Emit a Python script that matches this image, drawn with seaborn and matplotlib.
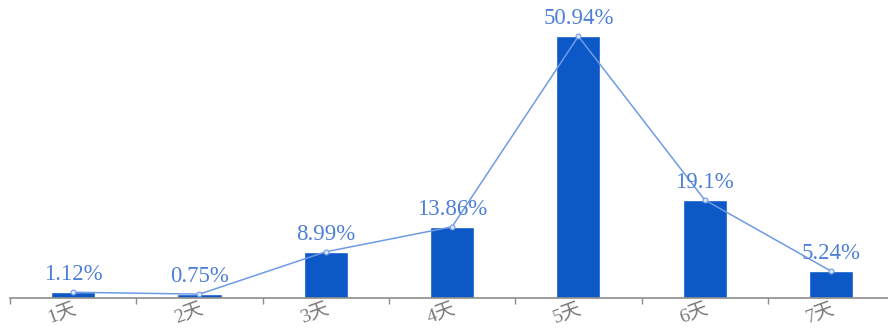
import matplotlib
matplotlib.use("Agg")
import matplotlib.pyplot as plt
import seaborn as sns
import pandas as pd
import numpy as np

days = ["1天", "2天", "3天", "4天", "5天", "6天", "7天"]
values = [1.12, 0.75, 8.99, 13.86, 50.94, 19.1, 5.24]
labels = ["1.12%", "0.75%", "8.99%", "13.86%", "50.94%", "19.1%", "5.24%"]

sns.set_style("white")
plt.rcParams['font.family'] = ['Liberation Serif', 'Noto Sans CJK SC', 'DejaVu Sans']

df = pd.DataFrame({"day": days, "value": values})

fig = plt.figure(figsize=(8.88, 3.31), dpi=100)
ax = fig.add_axes([10/888, 33/331, 878/888, 298/331])

sns.barplot(data=df, x="day", y="value", color="#0B58C6", saturation=1,
            width=0.35, ax=ax, zorder=2)

pos = np.arange(len(days))
ax.plot(pos, values, color="#6E9BE6", lw=1.1, zorder=3,
        marker="o", markersize=3.5, markerfacecolor="#DCE6F8",
        markeredgecolor="#6E9BE6", markeredgewidth=0.8)

for x, v, t in zip(pos, values, labels):
    ax.annotate(t, (x, v), xytext=(0, 5), textcoords="offset points",
                ha="center", va="bottom", fontsize=16.5, color="#4E7FD6",
                family=['Liberation Serif', 'DejaVu Sans'], zorder=4)

ax.set_xlabel("")
ax.set_ylabel("")
ax.set_yticks([])

ax.set_xticks(np.arange(len(days) + 1) - 0.5)
ax.set_xticklabels([])
ax.tick_params(axis="x", which="major", length=4, width=1, color="#8C8C8C",
               direction="out", bottom=True)
ax.set_xticks(pos, minor=True)
ax.set_xticklabels(days, minor=True, rotation=20, ha="right",
                   rotation_mode="anchor", fontsize=14, color="#7A7A7A")
ax.tick_params(axis="x", which="minor", length=0, pad=2)

ax.set_xlim(-0.5, -0.5 + 878/126.3)
ax.set_ylim(0, 58)

for s in ["top", "right", "left"]:
    ax.spines[s].set_visible(False)
ax.spines["bottom"].set_color("#8C8C8C")
ax.spines["bottom"].set_linewidth(1.2)

fig.savefig("out.png", dpi=100)
